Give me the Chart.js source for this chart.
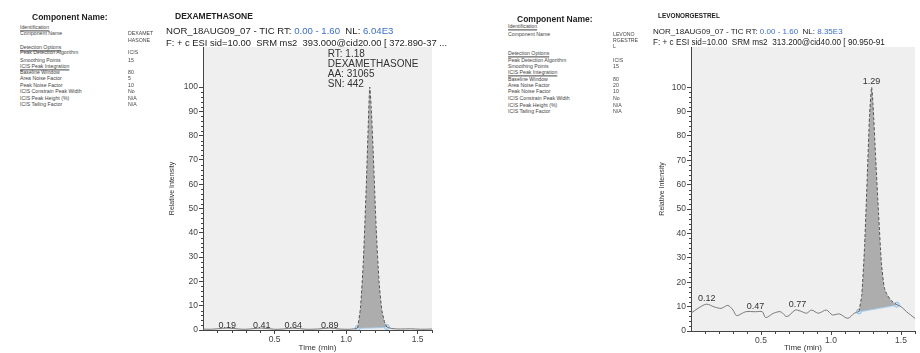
<!DOCTYPE html>
<html>
<head>
<meta charset="utf-8">
<script src="https://cdn.jsdelivr.net/npm/chart.js@4.4.0/dist/chart.umd.min.js"></script>
<style>
body { margin: 0; background: #fff; width: 920px; height: 353px; position: relative; overflow: hidden;
       font-family: "Liberation Sans", Arial, sans-serif; color: #222; }
canvas { position: absolute; top: 0; }
.t { position: absolute; white-space: nowrap; z-index: 2; transform: translateY(-50%); line-height: 1; }
.info { font-size: 5.2px; color: #444; }
.u { text-decoration: underline; }
.bold { font-weight: bold; }
.blue { color: #3b6fc8; }
</style>
</head>
<body>
<canvas id="leftChart" width="300" height="353" style="left:140px"></canvas>
<canvas id="rightChart" width="320" height="353" style="left:600px"></canvas>
<div id="texts"></div>
<script>
// ---- left panel : DEXAMETHASONE ----
const leftTimes  = [0, 0.05, 0.10, 0.17, 0.25, 0.30, 0.41, 0.50, 0.56, 0.63, 0.72, 0.80, 0.885, 0.95, 1.02, 1.06, 1.08];
const leftValues = [0.4, 0.3, 0.5, 0.8, 0.4, 0.3, 0.8, 0.3, 0.4, 0.8, 0.3, 0.4, 0.8, 0.4, 0.3, 0.5, 0.8];
const leftPeakTimes  = [1.08, 1.10, 1.12, 1.14, 1.155, 1.165, 1.175, 1.19, 1.21, 1.23, 1.25, 1.27, 1.285];
const leftPeakValues = [0.8, 9, 28, 58, 85, 100, 92, 72, 42, 20, 8, 3, 1.2];
const leftTailTimes  = [1.285, 1.32, 1.38, 1.45, 1.52, 1.6];
const leftTailValues = [1.2, 0.6, 0.4, 0.5, 0.3, 0.4];
const leftBaseTimes  = [1.08, 1.285];
const leftBaseValues = [0.8, 1.2];
const leftLabels = [
  { t: 0.17, v: -0.6, text: '0.19' }, { t: 0.41, v: -0.6, text: '0.41' },
  { t: 0.63, v: -0.6, text: '0.64' }, { t: 0.885, v: -0.6, text: '0.89' }
];
const leftPeakNote = ['RT: 1.18', 'DEXAMETHASONE', 'AA: 31065', 'SN: 442'];

// ---- right panel : LEVONORGESTREL ----
const rightTimes  = [0, 0.05, 0.11, 0.17, 0.216, 0.263, 0.30, 0.326, 0.39, 0.46, 0.51, 0.533, 0.59, 0.64, 0.685,
                     0.745, 0.78, 0.826, 0.86, 0.91, 0.967, 1.01, 1.06, 1.12, 1.167, 1.20];
const rightValues = [7.3, 9.3, 11.0, 9.8, 9.3, 10.5, 8.6, 6.3, 7.9, 7.9, 7.9, 5.5, 7.3, 7.9, 5.9,
                     8.6, 8.2, 7.3, 8.6, 7.3, 8.6, 6.6, 7.0, 5.2, 7.3, 8.0];
const rightPeakTimes  = [1.20, 1.22, 1.24, 1.26, 1.275, 1.29, 1.30, 1.32, 1.34, 1.36, 1.38, 1.40, 1.43, 1.47];
const rightPeakValues = [8.0, 15, 35, 65, 88, 100, 93, 70, 48, 28, 18, 15, 12.5, 10.8];
const rightTailTimes  = [1.47, 1.50, 1.54, 1.57, 1.6];
const rightTailValues = [10.8, 10.0, 7.9, 6.5, 5.2];
const rightBaseTimes  = [1.20, 1.47];
const rightBaseValues = [8.0, 10.8];
const rightLabels = [
  { t: 0.113, v: 11.0, text: '0.12' }, { t: 0.46, v: 7.9, text: '0.47' },
  { t: 0.76, v: 8.6, text: '0.77' }, { t: 1.29, v: 100, text: '1.29' }
];

const yTicks = [0, 10, 20, 30, 40, 50, 60, 70, 80, 90, 100];
const xTicks = [0.5, 1.0, 1.5];

function pts(xs, ys) { return xs.map((x, i) => ({ x: x, y: ys[i] })); }

// draws the gray plot background, minor ticks and the peak labels
const chromPlugin = {
  id: 'chrom',
  beforeDraw(chart) {
    const a = chart.chartArea, ctx = chart.ctx;
    ctx.save();
    ctx.fillStyle = '#efefef';
    ctx.fillRect(a.left, a.top, a.right - a.left, a.bottom - a.top);
    ctx.restore();
  },
  afterDraw(chart, args, opts) {
    const ctx = chart.ctx, xs = chart.scales.x, ys = chart.scales.y;
    ctx.save();
    ctx.strokeStyle = '#444';
    ctx.lineWidth = 1;
    ctx.beginPath();
    for (let v = 2; v <= 100; v += 2) {
      if (v % 10 === 0) continue;
      const py = Math.round(ys.getPixelForValue(v)) + 0.5;
      ctx.moveTo(ys.right - 2, py); ctx.lineTo(ys.right, py);
    }
    for (let i = 1; i <= 16; i++) {
      if (i % 5 === 0) continue;
      const px = Math.round(xs.getPixelForValue(i / 10)) + 0.5;
      ctx.moveTo(px, xs.top); ctx.lineTo(px, xs.top + 3);
    }
    ctx.stroke();

    ctx.fillStyle = '#333';
    ctx.font = opts.labelFont;
    ctx.textAlign = 'center';
    ctx.textBaseline = 'bottom';
    (opts.labels || []).forEach(l => {
      ctx.fillText(l.text, xs.getPixelForValue(l.t), ys.getPixelForValue(l.v) - 1);
    });
    if (opts.note) {
      ctx.font = opts.noteFont;
      ctx.textAlign = 'left';
      ctx.textBaseline = 'middle';
      const x0 = xs.getPixelForValue(opts.note.t) - opts.note.dx;
      opts.note.lines.forEach((s, i) => ctx.fillText(s, x0, opts.note.top + i * 10));
    }
    ctx.restore();
  }
};

function makePanel(id, trace, tail, peak, base, pad, yWidth, xHeight, plug) {
  new Chart(document.getElementById(id), {
    type: 'line',
    data: {
      datasets: [
        { data: trace, borderColor: '#7a7a7a', borderWidth: 1, pointRadius: 0, fill: false, tension: 0.3 },
        { data: tail, borderColor: '#7a7a7a', borderWidth: 1, pointRadius: 0, fill: false, tension: 0.3 },
        { data: peak, borderColor: '#555', borderWidth: 1, borderDash: [3, 2], pointRadius: 0,
          fill: '+1', backgroundColor: '#adadad', tension: 0.2 },
        { data: base, borderColor: '#a9d1f2', borderWidth: 2, pointRadius: 2.5,
          pointBackgroundColor: '#cfe6f8', pointBorderColor: '#8fc0ea', pointBorderWidth: 1, fill: false }
      ]
    },
    options: {
      responsive: false,
      animation: false,
      layout: { padding: pad },
      plugins: { legend: { display: false }, tooltip: { enabled: false }, chrom: plug },
      scales: {
        x: {
          type: 'linear', min: 0, max: 1.6,
          afterBuildTicks: s => { s.ticks = xTicks.map(v => ({ value: v })); },
          afterFit: s => { s.height = xHeight; },
          ticks: { callback: v => v.toFixed(1), color: '#444', font: { size: 8.5 }, padding: 1, maxRotation: 0 },
          grid: { drawOnChartArea: false, tickLength: 4, color: '#444' },
          border: { color: '#444' },
          title: { display: true, text: 'Time (min)', color: '#333', font: { size: 8 }, padding: 0 }
        },
        y: {
          min: 0, max: 116.5,
          afterBuildTicks: s => { s.ticks = yTicks.map(v => ({ value: v })); },
          afterFit: s => { s.width = yWidth; },
          ticks: { color: '#444', font: { size: 8.5 }, padding: 1 },
          grid: { drawOnChartArea: false, tickLength: 4, color: '#444' },
          border: { color: '#444' },
          title: { display: true, text: 'Relative Intensity', color: '#333', font: { size: 7 }, padding: 0 }
        }
      }
    },
    plugins: [chromPlugin]
  });
}

makePanel('leftChart',
  pts(leftTimes, leftValues), pts(leftTailTimes, leftTailValues),
  pts(leftPeakTimes, leftPeakValues), pts(leftBaseTimes, leftBaseValues),
  { left: 28, right: 8, top: 47, bottom: 0 }, 35, 23,
  { labels: leftLabels, labelFont: '9px "Liberation Sans", Arial',
    note: { lines: leftPeakNote, t: 1.165, dx: 42, top: 54 }, noteFont: '10px "Liberation Sans", Arial' });

makePanel('rightChart',
  pts(rightTimes, rightValues), pts(rightTailTimes, rightTailValues),
  pts(rightPeakTimes, rightPeakValues), pts(rightBaseTimes, rightBaseValues),
  { left: 58, right: 2, top: 47, bottom: 0 }, 33, 22,
  { labels: rightLabels, labelFont: '9px "Liberation Sans", Arial' });

// ---- header and method text ----
const leftInfo = [
  ['Identification', 28, 'u'], ['Component Name', 34], ['Detection Options', 48, 'u'],
  ['Peak Detection Algorithm', 53], ['Smoothing Points', 61], ['ICIS Peak Integration', 67, 'u'],
  ['Baseline Window', 73], ['Area Noise Factor', 79], ['Peak Noise Factor', 86],
  ['ICIS Constrain Peak Width', 92], ['ICIS Peak Height (%)', 99], ['ICIS Tailing Factor', 105]
];
const leftInfoValues = [['DEXAMET', 34], ['HASONE', 41], ['ICIS', 53], ['15', 61], ['80', 73], ['5', 79],
  ['10', 86], ['No', 92], ['N/A', 99], ['N/A', 105]];
const rightInfo = [
  ['Identification', 27, 'u'], ['Component Name', 35], ['Detection Options', 54, 'u'],
  ['Peak Detection Algorithm', 61], ['Smoothing Points', 67], ['ICIS Peak Integration', 73, 'u'],
  ['Baseline Window', 80], ['Area Noise Factor', 86], ['Peak Noise Factor', 92],
  ['ICIS Constrain Peak Width', 99], ['ICIS Peak Height (%)', 106], ['ICIS Tailing Factor', 112]
];
const rightInfoValues = [['LEVONO', 35], ['RGESTRE', 41], ['L', 47], ['ICIS', 61], ['15', 67], ['80', 80],
  ['20', 86], ['10', 92], ['No', 99], ['N/A', 106], ['N/A', 112]];

const box = document.getElementById('texts');
function addText(html, x, y, cls, style) {
  const d = document.createElement('div');
  d.className = 't ' + (cls || '');
  d.style.left = x + 'px';
  d.style.top = y + 'px';
  if (style) d.style.cssText += style;
  d.innerHTML = html;
  box.appendChild(d);
}
leftInfo.forEach(r => addText(r[0], 20, r[1], 'info ' + (r[2] || '')));
leftInfoValues.forEach(r => addText(r[0], 128, r[1], 'info'));
rightInfo.forEach(r => addText(r[0], 508, r[1], 'info ' + (r[2] || '')));
rightInfoValues.forEach(r => addText(r[0], 613, r[1], 'info'));

addText('Component Name:', 32, 17, 'bold', 'font-size:8.5px');
addText('Component Name:', 517, 19, 'bold', 'font-size:8.5px');
addText('DEXAMETHASONE', 175, 16, 'bold', 'font-size:8.5px');
addText('LEVONORGESTREL', 658, 16, 'bold', 'font-size:6.4px');
addText('NOR_18AUG09_07 - TIC RT: <span class="blue">0.00 - 1.60</span>&nbsp; NL: <span class="blue">6.04E3</span>',
  166, 31, '', 'font-size:9.6px');
addText('F: + c ESI sid=10.00&nbsp; SRM ms2&nbsp; 393.000@cid20.00 [ 372.890-37 ...', 166, 43, '', 'font-size:9.4px');
addText('NOR_18AUG09_07 - TIC RT: <span class="blue">0.00 - 1.60</span>&nbsp; NL: <span class="blue">8.35E3</span>',
  653, 32, '', 'font-size:8px');
addText('F: + c ESI sid=10.00&nbsp; SRM ms2&nbsp; 313.200@cid40.00 [ 90.950-91', 653, 43, '', 'font-size:8.2px');
</script>
</body>
</html>
